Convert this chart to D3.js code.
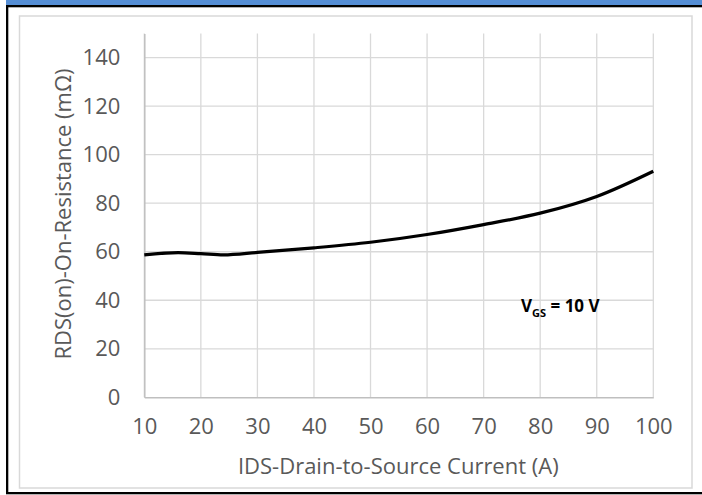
<!DOCTYPE html>
<html>
<head>
<meta charset="utf-8">
<script src="https://cdn.jsdelivr.net/npm/d3@7"></script>
<style>
  body { margin: 0; background: #ffffff; }
  svg text { font-family: "Open Sans", "Liberation Sans", sans-serif; }
</style>
</head>
<body>
<script>
// 曲线数据 (读自图片)
var v_Current    = [10, 16, 20, 24, 30, 40, 50, 60, 70, 80, 90, 100];
var v_Resistance = [58.7, 59.6, 59.2, 58.7, 59.7, 61.6, 63.9, 67.1, 71.2, 75.9, 82.8, 93.2];
var v_XTicks     = [10, 20, 30, 40, 50, 60, 70, 80, 90, 100];
var v_YTicks     = [0, 20, 40, 60, 80, 100, 120, 140];
var v_XTitle     = "IDS-Drain-to-Source Current (A)";
var v_YTitle     = "RDS(on)-On-Resistance (mΩ)";

var v_W = 702, v_H = 495;
var v_Plot = {left: 144.3, right: 653.3, top: 33.4, bottom: 397.3};

var v_SVG = d3.select("body").append("svg")
    .attr("width", v_W)
    .attr("height", v_H);

// 外框: 顶部蓝条 + 黑线
v_SVG.append("rect").attr("x", 6).attr("y", 0).attr("width", v_W - 6).attr("height", 5).attr("fill", "#558ed5");
v_SVG.append("rect").attr("x", 6).attr("y", 5).attr("width", v_W - 6).attr("height", 2.3).attr("fill", "#000");
v_SVG.append("rect").attr("x", 6).attr("y", 5).attr("width", 2.3).attr("height", 489).attr("fill", "#000");
v_SVG.append("rect").attr("x", 6).attr("y", 492).attr("width", v_W - 6).attr("height", 2.3).attr("fill", "#000");

// 图表区灰框
v_SVG.append("rect")
    .attr("x", 19.5).attr("y", 16)
    .attr("width", 673 - 0.5).attr("height", 472)
    .attr("fill", "none")
    .attr("stroke", "#d9d9d9")
    .attr("stroke-width", 1.5);

var v_X = d3.scaleLinear().domain([10, 100]).range([v_Plot.left, v_Plot.right]);
var v_Y = d3.scaleLinear().domain([0, 150]).range([v_Plot.bottom, v_Plot.top]);

// 网格
var v_Grid = v_SVG.append("g").attr("stroke", "#d9d9d9").attr("stroke-width", 1.3);
v_Grid.selectAll("line.gx")
    .data(v_XTicks)
    .enter().append("line")
    .attr("x1", d => v_X(d)).attr("x2", d => v_X(d))
    .attr("y1", v_Y(150)).attr("y2", v_Y(0));
v_Grid.selectAll("line.gy")
    .data(v_YTicks.filter(d => d > 0))
    .enter().append("line")
    .attr("x1", v_X(10)).attr("x2", v_X(100))
    .attr("y1", d => v_Y(d)).attr("y2", d => v_Y(d));

// 坐标轴
var v_XAxis = v_SVG.append("g")
    .attr("transform", "translate(0," + v_Y(0) + ")")
    .call(d3.axisBottom(v_X).tickValues(v_XTicks).tickSize(0).tickPadding(21));
var v_YAxis = v_SVG.append("g")
    .attr("transform", "translate(" + v_X(10) + ",0)")
    .call(d3.axisLeft(v_Y).tickValues(v_YTicks).tickSize(0).tickPadding(24));

v_XAxis.select(".domain").attr("stroke", "#bfbfbf").attr("stroke-width", 1.5);
v_YAxis.select(".domain").attr("stroke", "#bfbfbf").attr("stroke-width", 1.5);
[v_XAxis, v_YAxis].forEach(function (a)
{
    a.selectAll("text")
        .attr("fill", "#595959")
        .style("font-size", "22px")
        .style("font-family", "'Open Sans', sans-serif");
});

// 轴标题
v_SVG.append("text")
    .attr("x", (v_Plot.left + v_Plot.right) / 2 - 0.5)
    .attr("y", 474)
    .attr("text-anchor", "middle")
    .attr("fill", "#595959")
    .style("font-size", "22px")
    .text(v_XTitle);

v_SVG.append("text")
    .attr("transform", "translate(71,214) rotate(-90)")
    .attr("text-anchor", "middle")
    .attr("fill", "#595959")
    .style("font-size", "22px")
    .text(v_YTitle);

// 曲线
var v_Line = d3.line()
    .x((d, i) => v_X(v_Current[i]))
    .y(d => v_Y(d))
    .curve(d3.curveMonotoneX);

v_SVG.append("path")
    .datum(v_Resistance)
    .attr("d", v_Line)
    .attr("fill", "none")
    .attr("stroke", "#000")
    .attr("stroke-width", 3.2);

// 标注
var v_Label = v_SVG.append("text")
    .attr("x", 521)
    .attr("y", 312)
    .attr("fill", "#000")
    .style("font-weight", "bold")
    .style("font-size", "17px");
v_Label.append("tspan").text("V");
v_Label.append("tspan").attr("dy", 5).style("font-size", "11px").text("GS");
v_Label.append("tspan").attr("dy", -5).text(" = 10 V");
</script>
</body>
</html>
